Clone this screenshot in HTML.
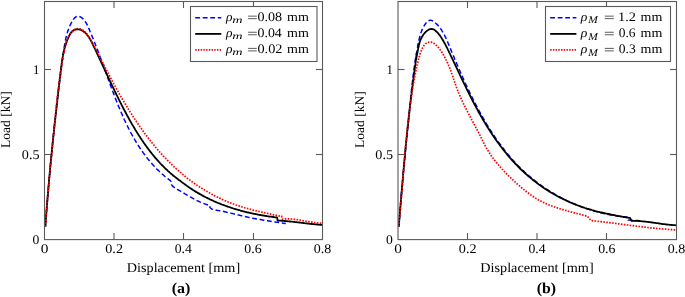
<!DOCTYPE html>
<html><head><meta charset="utf-8"><style>
html,body{margin:0;padding:0;background:#fff;width:685px;height:297px;overflow:hidden}
svg{display:block;will-change:transform}
text{font-kerning:none;text-rendering:geometricPrecision}
</style></head><body>
<svg width="685" height="297" viewBox="0 0 685 297">
<clipPath id="clipa"><rect x="44.5" y="1.5" width="278.0" height="238"/></clipPath>
<g clip-path="url(#clipa)" fill="none" stroke-width="1.5" stroke-linejoin="round">
<polyline points="45.2,226.8 45.4,225.8 45.4,224.8 45.5,223.8 45.6,222.8 45.7,221.8 45.7,220.8 45.8,219.8 45.9,218.8 46.0,217.8 46.1,216.8 46.1,215.8 46.2,214.8 46.3,213.8 46.4,212.8 46.5,211.8 46.5,210.8 46.6,209.8 46.7,208.8 46.8,207.8 46.9,206.8 47.0,205.8 47.0,204.8 47.1,203.8 47.2,202.8 47.3,201.8 47.4,200.8 47.4,199.8 47.5,198.7 47.6,197.7 47.7,196.7 47.8,195.7 47.9,194.7 47.9,193.7 48.0,192.7 48.1,191.7 48.2,190.7 48.3,189.7 48.4,188.7 48.5,187.7 48.5,186.7 48.6,185.7 48.7,184.7 48.8,183.7 48.9,182.7 49.0,181.7 49.1,180.7 49.2,179.7 49.2,178.7 49.3,177.7 49.4,176.7 49.5,175.7 49.6,174.7 49.7,173.7 49.8,172.7 49.9,171.7 50.0,170.7 50.1,169.7 50.1,168.7 50.2,167.7 50.3,166.7 50.4,165.7 50.5,164.7 50.6,163.7 50.7,162.7 50.8,161.7 50.9,160.7 51.0,159.7 51.1,158.7 51.2,157.7 51.3,156.7 51.4,155.7 51.5,154.7 51.6,153.7 51.7,152.8 51.8,151.8 51.8,150.8 51.9,149.8 52.0,148.8 52.1,147.8 52.2,146.8 52.3,145.8 52.4,144.8 52.5,143.8 52.6,142.8 52.7,141.8 52.8,140.8 52.9,139.8 53.0,138.8 53.1,137.8 53.2,136.8 53.4,135.8 53.5,134.8 53.6,133.8 53.7,132.8 53.8,131.8 53.9,130.8 54.0,129.8 54.1,128.8 54.2,127.8 54.3,126.8 54.4,125.8 54.5,124.8 54.6,123.8 54.7,122.8 54.8,121.8 54.9,120.8 55.0,119.8 55.2,118.8 55.3,117.8 55.4,116.8 55.5,115.8 55.6,114.8 55.7,113.8 55.8,112.8 55.9,111.8 56.1,110.9 56.2,109.9 56.3,108.9 56.4,107.9 56.5,106.9 56.6,105.9 56.7,104.9 56.9,103.9 57.0,102.9 57.1,101.9 57.2,100.9 57.3,99.9 57.4,98.9 57.6,97.9 57.7,96.9 57.8,95.9 57.9,94.9 58.0,93.9 58.2,92.9 58.3,91.9 58.4,90.9 58.5,89.9 58.7,88.9 58.8,87.9 58.9,86.9 59.0,85.9 59.2,84.9 59.3,83.9 59.4,82.9 59.5,81.9 59.7,80.9 59.8,79.9 59.9,79.0 60.0,78.0 60.2,77.0 60.3,76.0 60.4,75.0 60.6,74.0 60.7,73.0 60.8,72.0 61.0,71.0 61.1,70.0 61.2,69.0 61.4,68.0 61.5,67.0 61.6,66.0 61.8,65.0 61.9,64.0 62.0,63.0 62.2,62.0 62.3,61.0 62.5,60.0 62.6,59.0 62.7,58.0 62.9,57.0 63.0,56.0 63.2,55.0 63.3,54.0 63.4,53.0 63.6,52.0 63.7,51.0 63.9,50.0 64.0,49.0 64.2,48.0 64.3,47.0 64.5,46.0 64.6,45.0 64.8,44.1 65.0,43.1 65.1,42.1 65.3,41.1 65.5,40.1 65.7,39.1 65.9,38.1 66.1,37.2 66.4,36.2 66.6,35.2 66.9,34.2 67.2,33.3 67.4,32.3 67.7,31.4 68.1,30.4 68.4,29.5 68.7,28.5 69.1,27.6 69.5,26.6 69.9,25.7 70.3,24.8 70.8,23.9 71.3,23.0 71.8,22.1 72.3,21.2 72.8,20.3 73.4,19.4 74.0,18.6 74.6,17.9 75.3,17.3 76.0,16.8 76.7,16.5 77.5,16.3 78.3,16.3 79.1,16.4 80.0,16.7 80.8,17.1 81.6,17.7 82.4,18.3 83.1,18.9 83.8,19.6 84.4,20.4 85.1,21.2 85.6,22.1 86.2,23.0 86.7,23.9 87.2,24.8 87.6,25.8 88.1,26.8 88.5,27.8 88.9,28.7 89.4,29.7 89.8,30.7 90.2,31.7 90.6,32.6 91.0,33.6 91.4,34.6 91.8,35.5 92.2,36.5 92.5,37.4 92.9,38.3 93.3,39.3 93.7,40.2 94.1,41.1 94.4,42.0 94.8,43.0 95.2,43.9 95.5,44.8 95.9,45.7 96.3,46.6 96.6,47.5 97.0,48.5 97.3,49.4 97.7,50.3 98.0,51.2 98.4,52.1 98.7,53.1 99.1,54.0 99.4,54.9 99.8,55.8 100.1,56.8 100.5,57.7 100.8,58.6 101.2,59.6 101.5,60.5 101.8,61.4 102.2,62.3 102.5,63.3 102.9,64.2 103.2,65.2 103.5,66.1 103.9,67.0 104.2,68.0 104.6,68.9 104.9,69.8 105.2,70.8 105.6,71.7 105.9,72.7 106.3,73.6 106.6,74.5 106.9,75.5 107.3,76.4 107.6,77.4 108.0,78.3 108.3,79.3 108.6,80.2 109.0,81.1 109.3,82.1 109.7,83.0 110.0,84.0 110.4,84.9 110.7,85.9 111.1,86.8 111.4,87.8 111.8,88.7 112.1,89.6 112.5,90.6 112.8,91.5 113.2,92.5 113.5,93.4 113.9,94.4 114.3,95.3 114.6,96.2 115.0,97.2 115.3,98.1 115.7,99.1 116.1,100.0 116.4,101.0 116.8,101.9 117.2,102.8 117.6,103.8 118.0,104.7 118.3,105.6 118.7,106.6 119.1,107.5 119.5,108.4 119.9,109.4 120.3,110.3 120.7,111.2 121.1,112.2 121.5,113.1 121.9,114.0 122.3,114.9 122.7,115.9 123.1,116.8 123.5,117.7 123.9,118.6 124.3,119.6 124.8,120.5 125.2,121.4 125.6,122.3 126.1,123.2 126.5,124.1 126.9,125.0 127.4,125.9 127.8,126.8 128.3,127.7 128.7,128.6 129.2,129.5 129.6,130.4 130.1,131.3 130.6,132.2 131.0,133.1 131.5,134.0 132.0,134.9 132.5,135.7 133.0,136.6 133.5,137.5 134.0,138.3 134.5,139.2 135.0,140.1 135.5,140.9 136.0,141.8 136.5,142.7 137.0,143.5 137.6,144.3 138.1,145.2 138.6,146.0 139.2,146.9 139.7,147.7 140.3,148.5 140.8,149.4 141.4,150.2 142.0,151.0 142.5,151.8 143.1,152.6 143.7,153.4 144.3,154.2 144.9,155.0 145.5,155.8 146.1,156.6 146.7,157.4 147.3,158.2 147.9,159.0 148.6,159.7 149.2,160.5 149.8,161.3 150.5,162.0 151.1,162.8 151.8,163.5 152.4,164.3 153.1,165.0 153.8,165.8 154.5,166.5 155.1,167.2 155.8,167.9 156.5,168.7 157.2,169.4 158.0,170.1 158.7,170.8 159.4,171.5 160.1,172.1 160.9,172.8 161.6,173.5 162.4,174.2 163.1,174.8 163.9,175.5 164.7,176.2 165.4,176.8 166.2,177.4 167.0,178.1 167.8,178.7 168.6,179.3 169.5,179.9 170.3,180.6 170.8,181.4 170.8,181.4 170.7,182.6 171.0,183.6 171.4,184.4 171.9,185.2 172.5,185.9 173.2,186.6 173.9,187.2 174.7,187.7 175.6,188.3 176.5,188.8 177.3,189.3 178.2,189.8 179.1,190.3 180.0,190.9 180.9,191.4 181.8,191.9 182.7,192.5 183.6,193.0 184.5,193.5 185.4,194.1 186.3,194.6 187.2,195.1 188.1,195.6 188.9,196.2 189.8,196.7 190.7,197.2 191.6,197.7 192.5,198.2 193.4,198.7 194.3,199.2 195.2,199.6 196.1,200.1 197.0,200.6 197.9,201.0 198.8,201.4 199.8,201.9 200.7,202.3 201.6,202.7 202.6,203.1 203.5,203.4 204.5,203.8 205.5,204.1 206.5,204.5 207.5,204.8 208.5,205.1 209.5,205.3 209.5,205.3 209.6,206.6 210.0,207.4 210.6,208.1 211.3,208.6 212.0,209.1 212.9,209.4 213.7,209.7 214.7,209.9 215.7,210.1 216.6,210.3 217.7,210.4 218.7,210.6 219.7,210.7 220.7,210.9 221.7,211.1 222.7,211.3 223.7,211.5 224.7,211.7 225.7,211.9 226.7,212.2 227.7,212.4 228.7,212.6 229.7,212.9 230.7,213.1 231.7,213.4 232.7,213.6 233.7,213.9 234.7,214.1 235.7,214.4 236.7,214.6 237.7,214.9 238.7,215.1 239.7,215.3 240.7,215.6 241.7,215.8 242.7,216.0 243.7,216.3 244.7,216.5 245.7,216.7 246.7,216.9 247.7,217.1 248.7,217.4 249.7,217.6 250.6,217.8 251.6,218.0 252.6,218.2 253.6,218.4 254.6,218.5 255.6,218.7 256.6,218.9 257.6,219.1 258.6,219.3 259.6,219.5 260.6,219.6 261.6,219.8 262.6,220.0 263.6,220.2 264.6,220.3 265.6,220.5 266.6,220.7 267.6,220.8 268.6,221.0 269.6,221.1 270.6,221.3 271.7,221.4 272.7,221.6 273.7,221.7 274.7,221.9 275.7,222.1 276.7,222.2 277.7,222.3 278.7,222.5 279.7,222.6 280.7,222.8 281.8,222.9 282.8,223.1 283.8,223.2 284.8,223.4 285.8,223.6" stroke="#0000ff" stroke-dasharray="4.85 2.65"/>
<polyline points="45.2,226.8 45.4,225.8 45.5,224.8 45.5,223.8 45.6,222.8 45.7,221.8 45.8,220.8 45.8,219.8 45.9,218.8 46.0,217.8 46.1,216.8 46.1,215.8 46.2,214.8 46.3,213.8 46.4,212.8 46.4,211.8 46.5,210.8 46.6,209.8 46.7,208.8 46.8,207.8 46.8,206.8 46.9,205.8 47.0,204.8 47.1,203.8 47.2,202.8 47.2,201.8 47.3,200.8 47.4,199.8 47.5,198.8 47.6,197.8 47.7,196.8 47.7,195.8 47.8,194.8 47.9,193.8 48.0,192.8 48.1,191.8 48.2,190.8 48.2,189.8 48.3,188.8 48.4,187.8 48.5,186.8 48.6,185.8 48.7,184.8 48.8,183.8 48.9,182.8 49.0,181.8 49.0,180.7 49.1,179.7 49.2,178.7 49.3,177.7 49.4,176.7 49.5,175.7 49.6,174.7 49.7,173.7 49.8,172.7 49.9,171.7 50.0,170.7 50.1,169.7 50.1,168.7 50.2,167.7 50.3,166.7 50.4,165.7 50.5,164.7 50.6,163.7 50.7,162.7 50.8,161.7 50.9,160.7 51.0,159.7 51.1,158.7 51.2,157.7 51.3,156.7 51.4,155.7 51.5,154.7 51.6,153.7 51.7,152.7 51.8,151.7 51.9,150.7 52.0,149.7 52.1,148.7 52.2,147.7 52.3,146.7 52.4,145.7 52.5,144.7 52.6,143.7 52.7,142.7 52.8,141.7 52.9,140.7 53.0,139.7 53.1,138.7 53.2,137.7 53.3,136.7 53.4,135.7 53.5,134.7 53.6,133.7 53.8,132.7 53.9,131.7 54.0,130.7 54.1,129.7 54.2,128.7 54.3,127.7 54.4,126.7 54.5,125.7 54.6,124.7 54.7,123.7 54.8,122.7 54.9,121.7 55.0,120.7 55.1,119.7 55.3,118.7 55.4,117.7 55.5,116.7 55.6,115.7 55.7,114.7 55.8,113.7 55.9,112.7 56.0,111.7 56.1,110.7 56.3,109.7 56.4,108.7 56.5,107.7 56.6,106.7 56.7,105.7 56.8,104.7 56.9,103.7 57.0,102.7 57.2,101.7 57.3,100.7 57.4,99.7 57.5,98.7 57.6,97.7 57.7,96.7 57.8,95.7 57.9,94.7 58.1,93.7 58.2,92.7 58.3,91.7 58.4,90.7 58.5,89.7 58.6,88.7 58.8,87.8 58.9,86.8 59.0,85.8 59.1,84.8 59.2,83.8 59.3,82.8 59.5,81.8 59.6,80.8 59.7,79.8 59.8,78.8 59.9,77.8 60.1,76.8 60.2,75.8 60.3,74.8 60.4,73.8 60.5,72.8 60.6,71.8 60.8,70.9 60.9,69.9 61.0,68.9 61.1,67.9 61.2,66.9 61.4,65.9 61.5,64.9 61.6,63.9 61.8,62.9 61.9,61.9 62.0,60.9 62.2,60.0 62.3,59.0 62.5,58.0 62.7,57.0 62.9,56.0 63.0,55.0 63.2,54.0 63.4,53.0 63.6,52.0 63.9,51.1 64.1,50.1 64.3,49.1 64.6,48.1 64.9,47.1 65.2,46.1 65.5,45.1 65.8,44.2 66.1,43.2 66.5,42.2 66.8,41.2 67.2,40.2 67.6,39.3 68.0,38.3 68.4,37.3 68.9,36.3 69.4,35.4 69.9,34.4 70.4,33.5 71.0,32.7 71.6,31.9 72.3,31.3 73.0,30.7 73.7,30.1 74.5,29.7 75.4,29.5 76.3,29.3 77.2,29.2 78.1,29.3 79.0,29.4 79.9,29.6 80.8,29.9 81.6,30.3 82.4,30.7 83.2,31.2 83.9,31.7 84.6,32.3 85.3,32.9 86.0,33.5 86.6,34.2 87.2,35.0 87.8,35.7 88.4,36.5 89.0,37.4 89.5,38.2 90.0,39.1 90.6,40.0 91.0,40.9 91.5,41.8 92.0,42.8 92.5,43.7 92.9,44.7 93.4,45.7 93.9,46.6 94.3,47.6 94.8,48.5 95.2,49.5 95.7,50.4 96.1,51.4 96.6,52.3 97.0,53.3 97.4,54.2 97.9,55.1 98.3,56.1 98.8,57.0 99.2,57.9 99.6,58.9 100.1,59.8 100.5,60.7 100.9,61.6 101.3,62.6 101.8,63.5 102.2,64.4 102.6,65.3 103.1,66.2 103.5,67.2 103.9,68.1 104.3,69.0 104.8,69.9 105.2,70.8 105.6,71.7 106.0,72.6 106.4,73.5 106.9,74.4 107.3,75.3 107.7,76.2 108.1,77.1 108.5,78.0 109.0,78.9 109.4,79.8 109.8,80.7 110.2,81.6 110.7,82.5 111.1,83.4 111.5,84.3 111.9,85.2 112.4,86.1 112.8,87.0 113.2,87.9 113.6,88.8 114.1,89.6 114.5,90.5 114.9,91.4 115.3,92.3 115.8,93.2 116.2,94.1 116.6,95.0 117.1,95.9 117.5,96.7 118.0,97.6 118.4,98.5 118.8,99.4 119.3,100.3 119.7,101.2 120.2,102.1 120.6,102.9 121.1,103.8 121.5,104.7 122.0,105.6 122.4,106.5 122.9,107.4 123.3,108.3 123.8,109.2 124.3,110.0 124.7,110.9 125.2,111.8 125.7,112.7 126.2,113.6 126.6,114.5 127.1,115.4 127.6,116.2 128.1,117.1 128.6,118.0 129.0,118.9 129.5,119.8 130.0,120.6 130.5,121.5 131.0,122.4 131.5,123.3 132.0,124.2 132.5,125.0 133.1,125.9 133.6,126.8 134.1,127.6 134.6,128.5 135.1,129.4 135.6,130.2 136.2,131.1 136.7,132.0 137.2,132.8 137.8,133.7 138.3,134.5 138.9,135.4 139.4,136.2 140.0,137.1 140.5,137.9 141.1,138.8 141.6,139.6 142.2,140.5 142.8,141.3 143.3,142.1 143.9,143.0 144.5,143.8 145.1,144.6 145.7,145.4 146.3,146.3 146.9,147.1 147.5,147.9 148.1,148.7 148.7,149.5 149.3,150.3 149.9,151.1 150.5,151.9 151.1,152.7 151.8,153.5 152.4,154.3 153.0,155.0 153.7,155.8 154.3,156.6 154.9,157.3 155.6,158.1 156.3,158.9 156.9,159.6 157.6,160.4 158.3,161.1 158.9,161.9 159.6,162.6 160.3,163.3 161.0,164.1 161.7,164.8 162.4,165.5 163.1,166.2 163.8,166.9 164.5,167.6 165.2,168.3 165.9,169.0 166.7,169.7 167.4,170.4 168.1,171.1 168.9,171.7 169.6,172.4 170.4,173.1 171.1,173.7 171.9,174.4 172.6,175.0 173.4,175.7 174.2,176.3 175.0,176.9 175.8,177.5 176.6,178.1 177.4,178.8 178.2,179.4 178.9,180.1 178.9,180.1 179.9,180.5 180.6,181.1 181.4,181.8 182.2,182.4 183.1,183.0 183.9,183.6 184.7,184.2 185.5,184.8 186.3,185.4 187.1,186.0 188.0,186.6 188.8,187.2 189.6,187.8 190.5,188.3 191.3,188.9 192.2,189.4 193.0,190.0 193.9,190.5 194.7,191.1 195.6,191.6 196.5,192.1 197.3,192.6 198.2,193.1 199.1,193.6 200.0,194.1 200.9,194.6 201.7,195.1 202.6,195.6 203.5,196.1 204.4,196.6 205.3,197.0 206.2,197.5 207.1,197.9 208.0,198.4 208.9,198.8 209.8,199.3 210.8,199.7 211.7,200.1 212.6,200.5 213.5,201.0 214.4,201.4 215.4,201.8 216.3,202.2 217.2,202.6 218.2,203.0 219.1,203.3 220.1,203.7 221.0,204.1 221.9,204.5 222.9,204.8 223.8,205.2 224.8,205.5 225.7,205.9 226.7,206.2 227.7,206.6 228.6,206.9 229.6,207.2 230.5,207.5 231.5,207.9 232.5,208.2 233.4,208.5 234.4,208.8 235.4,209.1 236.4,209.4 237.3,209.7 238.3,209.9 239.3,210.2 240.3,210.5 241.2,210.8 242.2,211.0 243.2,211.3 244.2,211.5 245.2,211.8 246.2,212.0 247.1,212.3 248.1,212.5 249.1,212.7 250.1,213.0 251.1,213.2 252.1,213.4 253.1,213.6 254.1,213.8 255.1,214.0 256.1,214.2 257.1,214.4 258.1,214.6 259.1,214.8 260.1,215.0 261.1,215.2 262.1,215.4 263.1,215.5 264.1,215.7 265.1,215.9 266.1,216.0 267.1,216.2 268.1,216.3 269.1,216.5 270.1,216.6 271.1,216.7 272.1,216.9 273.1,217.0 274.1,217.1 275.1,217.3 276.1,217.4 277.1,217.5 277.6,220.6 278.6,220.6 279.7,220.6 280.7,220.7 281.8,220.8 282.8,220.8 283.8,220.9 284.9,221.0 285.9,221.1 287.0,221.2 288.0,221.3 289.0,221.4 290.1,221.5 291.1,221.6 292.1,221.7 293.2,221.8 294.2,221.9 295.2,222.1 296.3,222.2 297.3,222.3 298.4,222.4 299.4,222.5 300.4,222.7 301.5,222.8 302.5,222.9 303.5,223.0 304.6,223.2 305.6,223.3 306.6,223.4 307.7,223.5 308.7,223.6 309.7,223.8 310.8,223.9 311.8,224.0 312.9,224.1 313.9,224.2 314.9,224.3 316.0,224.4 317.0,224.5 318.0,224.6 319.1,224.7 320.1,224.8 321.2,224.8 322.2,224.9" stroke="#000000" stroke-width="1.8"/>
<polyline points="45.2,226.8 45.4,225.8 45.4,224.8 45.5,223.8 45.6,222.8 45.7,221.8 45.7,220.8 45.8,219.8 45.9,218.8 45.9,217.8 46.0,216.8 46.1,215.8 46.2,214.8 46.2,213.8 46.3,212.8 46.4,211.8 46.5,210.8 46.6,209.8 46.6,208.8 46.7,207.8 46.8,206.8 46.9,205.8 47.0,204.8 47.0,203.8 47.1,202.8 47.2,201.8 47.3,200.8 47.4,199.8 47.5,198.8 47.6,197.8 47.6,196.8 47.7,195.8 47.8,194.8 47.9,193.8 48.0,192.8 48.1,191.8 48.2,190.8 48.3,189.8 48.3,188.8 48.4,187.8 48.5,186.8 48.6,185.8 48.7,184.8 48.8,183.8 48.9,182.8 49.0,181.8 49.1,180.8 49.2,179.8 49.3,178.9 49.4,177.9 49.5,176.9 49.6,175.9 49.6,174.9 49.7,173.9 49.8,172.9 49.9,171.9 50.0,170.9 50.1,169.9 50.2,168.9 50.3,167.9 50.4,166.9 50.5,165.9 50.6,164.9 50.7,163.9 50.8,162.9 50.9,161.9 51.0,160.9 51.1,159.9 51.2,158.9 51.3,157.9 51.4,156.9 51.5,155.9 51.6,154.9 51.7,153.9 51.8,152.9 51.9,151.9 52.0,150.9 52.1,149.9 52.2,148.9 52.3,147.9 52.4,146.9 52.5,145.9 52.6,144.9 52.7,143.9 52.8,142.9 52.9,141.9 53.0,140.9 53.1,139.9 53.2,138.9 53.3,137.9 53.4,136.9 53.5,135.9 53.6,134.9 53.7,133.9 53.8,132.9 53.9,131.9 54.0,130.9 54.1,129.9 54.1,128.9 54.2,128.0 54.3,127.0 54.4,126.0 54.5,125.0 54.6,124.0 54.7,123.0 54.8,122.0 54.9,121.0 55.0,120.0 55.1,119.0 55.2,118.0 55.3,117.0 55.4,116.0 55.5,115.0 55.6,114.0 55.7,113.0 55.8,112.0 55.9,111.0 56.0,110.0 56.1,109.0 56.2,108.0 56.3,107.0 56.4,106.0 56.5,105.0 56.6,104.0 56.7,103.0 56.8,102.0 56.9,101.0 57.0,100.0 57.1,99.0 57.2,98.0 57.4,97.1 57.5,96.1 57.6,95.1 57.7,94.1 57.8,93.1 57.9,92.1 58.0,91.1 58.2,90.1 58.3,89.1 58.4,88.1 58.5,87.1 58.6,86.1 58.8,85.1 58.9,84.1 59.0,83.1 59.2,82.1 59.3,81.1 59.4,80.2 59.6,79.2 59.7,78.2 59.8,77.2 60.0,76.2 60.1,75.2 60.3,74.2 60.4,73.2 60.6,72.2 60.7,71.2 60.9,70.2 61.0,69.2 61.2,68.3 61.3,67.3 61.5,66.3 61.7,65.3 61.8,64.3 62.0,63.3 62.2,62.3 62.3,61.3 62.5,60.3 62.7,59.4 62.9,58.4 63.0,57.4 63.2,56.4 63.4,55.4 63.6,54.4 63.8,53.4 64.0,52.4 64.2,51.5 64.4,50.5 64.6,49.5 64.8,48.5 65.0,47.5 65.2,46.5 65.4,45.5 65.7,44.6 65.9,43.6 66.2,42.6 66.4,41.6 66.7,40.7 67.0,39.7 67.4,38.8 67.8,37.9 68.2,37.0 68.6,36.1 69.1,35.2 69.7,34.4 70.3,33.6 71.0,32.8 71.7,32.0 72.5,31.3 73.3,30.7 74.1,30.1 75.0,29.6 75.9,29.2 76.8,28.9 77.7,28.7 78.6,28.7 79.6,28.8 80.4,29.0 81.3,29.3 82.1,29.7 82.9,30.2 83.7,30.7 84.4,31.4 85.1,32.1 85.8,32.8 86.4,33.6 87.1,34.4 87.7,35.3 88.3,36.2 88.9,37.1 89.4,38.0 90.0,38.9 90.5,39.8 91.1,40.7 91.6,41.6 92.1,42.5 92.6,43.4 93.1,44.3 93.6,45.2 94.1,46.0 94.6,46.9 95.0,47.8 95.5,48.7 96.0,49.6 96.4,50.4 96.9,51.3 97.3,52.2 97.8,53.1 98.2,54.0 98.7,54.8 99.1,55.7 99.5,56.6 100.0,57.5 100.4,58.3 100.9,59.2 101.3,60.1 101.8,61.0 102.2,61.9 102.7,62.7 103.1,63.6 103.6,64.5 104.0,65.4 104.5,66.3 104.9,67.1 105.4,68.0 105.9,68.9 106.3,69.8 106.8,70.7 107.2,71.6 107.7,72.4 108.2,73.3 108.6,74.2 109.1,75.1 109.6,76.0 110.0,76.9 110.5,77.7 111.0,78.6 111.4,79.5 111.9,80.4 112.4,81.3 112.9,82.2 113.4,83.0 113.8,83.9 114.3,84.8 114.8,85.7 115.3,86.6 115.8,87.4 116.3,88.3 116.7,89.2 117.2,90.1 117.7,90.9 118.2,91.8 118.7,92.7 119.2,93.6 119.7,94.5 120.2,95.3 120.7,96.2 121.2,97.1 121.7,97.9 122.2,98.8 122.7,99.7 123.2,100.5 123.8,101.4 124.3,102.3 124.8,103.1 125.3,104.0 125.8,104.9 126.3,105.7 126.9,106.6 127.4,107.5 127.9,108.3 128.4,109.2 129.0,110.0 129.5,110.9 130.0,111.7 130.6,112.6 131.1,113.4 131.7,114.3 132.2,115.1 132.8,116.0 133.3,116.8 133.9,117.7 134.4,118.5 135.0,119.4 135.5,120.2 136.1,121.0 136.6,121.9 137.2,122.7 137.8,123.5 138.3,124.4 138.9,125.2 139.5,126.0 140.0,126.9 140.6,127.7 141.2,128.5 141.8,129.3 142.4,130.1 143.0,130.9 143.5,131.8 144.1,132.6 144.7,133.4 145.3,134.2 145.9,135.0 146.5,135.8 147.1,136.6 147.7,137.4 148.4,138.2 149.0,139.0 149.6,139.8 150.2,140.6 150.8,141.3 151.4,142.1 152.1,142.9 152.7,143.7 153.3,144.5 154.0,145.2 154.6,146.0 155.2,146.8 155.9,147.5 156.5,148.3 157.2,149.1 157.8,149.8 158.5,150.6 159.1,151.3 159.8,152.1 160.5,152.8 161.1,153.6 161.8,154.3 162.5,155.0 163.1,155.8 163.8,156.5 164.5,157.2 165.2,157.9 165.9,158.7 166.6,159.4 167.3,160.1 168.0,160.8 168.7,161.5 169.4,162.2 170.1,162.9 170.8,163.6 171.5,164.3 172.2,165.0 172.9,165.7 173.6,166.4 174.4,167.1 175.1,167.7 175.8,168.4 176.6,169.1 177.3,169.7 178.1,170.4 178.8,171.1 179.5,171.7 180.3,172.4 181.1,173.0 181.8,173.7 182.6,174.3 183.3,174.9 184.1,175.6 184.9,176.2 185.7,176.8 186.5,177.4 187.2,178.1 188.0,178.7 188.8,179.3 189.6,179.9 190.4,180.5 191.2,181.1 192.0,181.7 192.8,182.3 193.7,182.8 194.5,183.4 195.3,184.0 196.1,184.6 196.9,185.1 197.8,185.7 198.6,186.2 199.4,186.8 200.3,187.3 201.1,187.9 202.0,188.4 202.8,188.9 203.7,189.5 204.5,190.0 205.4,190.5 206.3,191.0 207.1,191.5 208.0,192.0 208.9,192.5 209.7,193.0 210.6,193.5 211.5,194.0 212.4,194.5 213.3,194.9 214.1,195.4 215.0,195.9 215.9,196.3 216.8,196.8 217.7,197.2 218.6,197.7 219.5,198.1 220.4,198.5 221.3,199.0 222.2,199.4 223.2,199.8 224.1,200.2 225.0,200.6 225.9,201.0 226.8,201.4 227.7,201.8 228.7,202.2 229.6,202.5 230.5,202.9 231.5,203.3 232.4,203.6 233.3,204.0 234.3,204.3 235.2,204.6 236.1,205.0 237.1,205.3 238.0,205.6 239.0,205.9 239.9,206.2 240.9,206.5 241.8,206.8 242.8,207.1 243.7,207.4 244.7,207.7 245.6,208.0 246.6,208.3 247.6,208.5 248.5,208.8 249.5,209.1 250.4,209.3 251.4,209.6 252.4,209.8 253.3,210.1 254.3,210.3 255.3,210.6 256.2,210.8 257.2,211.1 258.2,211.3 259.1,211.5 260.1,211.7 261.1,212.0 262.0,212.2 263.0,212.4 264.0,212.6 265.0,212.9 265.9,213.1 266.9,213.3 267.9,213.5 268.9,213.7 269.8,213.9 270.8,214.1 271.8,214.4 272.8,214.6 273.7,214.8 274.7,215.0 275.7,215.2 276.7,215.4 277.6,215.6 278.6,215.8 279.6,216.0 280.6,216.2 281.6,216.2 282.2,219.2 283.2,219.1 284.3,219.0 285.3,218.9 286.3,218.9 287.4,218.9 288.4,218.9 289.4,218.9 290.5,218.9 291.5,219.0 292.5,219.1 293.5,219.2 294.6,219.3 295.6,219.4 296.6,219.6 297.6,219.7 298.7,219.9 299.7,220.0 300.7,220.2 301.7,220.4 302.7,220.6 303.8,220.8 304.8,221.0 305.8,221.2 306.8,221.3 307.8,221.5 308.9,221.7 309.9,221.9 310.9,222.1 311.9,222.2 312.9,222.4 314.0,222.5 315.0,222.7 316.0,222.8 317.0,222.9 318.1,223.0 319.1,223.1 320.1,223.1 321.2,223.2 322.2,223.2" stroke="#ff0000" stroke-width="1.7" stroke-dasharray="1.6 1.35"/>
</g>
<g fill="none" stroke="#5a5a5a" stroke-width="1.1">
<rect x="44.5" y="1.5" width="278.0" height="238.1"/>
<line x1="114.0" y1="239.5" x2="114.0" y2="233"/>
<line x1="114.0" y1="1.5" x2="114.0" y2="8"/>
<line x1="183.5" y1="239.5" x2="183.5" y2="233"/>
<line x1="183.5" y1="1.5" x2="183.5" y2="8"/>
<line x1="253.5" y1="239.5" x2="253.5" y2="233"/>
<line x1="253.5" y1="1.5" x2="253.5" y2="8"/>
<line x1="44.5" y1="154.5" x2="51.0" y2="154.5"/>
<line x1="322.5" y1="154.5" x2="316.0" y2="154.5"/>
<line x1="44.5" y1="69.5" x2="51.0" y2="69.5"/>
<line x1="322.5" y1="69.5" x2="316.0" y2="69.5"/>
</g>
<g font-family="Liberation Serif" fill="#000">
<text x="40.67" y="253.00" font-size="13.3" textLength="7.67" lengthAdjust="spacingAndGlyphs">0</text>
<text x="105.26" y="253.00" font-size="13.3" textLength="17.72" lengthAdjust="spacingAndGlyphs">0.2</text>
<text x="174.78" y="253.00" font-size="13.3" textLength="17.14" lengthAdjust="spacingAndGlyphs">0.4</text>
<text x="244.27" y="253.00" font-size="13.3" textLength="17.34" lengthAdjust="spacingAndGlyphs">0.6</text>
<text x="313.77" y="253.00" font-size="13.3" textLength="17.46" lengthAdjust="spacingAndGlyphs">0.8</text>
<text x="32.58" y="243.90" font-size="13.3" textLength="6.84" lengthAdjust="spacingAndGlyphs">0</text>
<text x="21.86" y="159.00" font-size="13.3" textLength="17.69" lengthAdjust="spacingAndGlyphs">0.5</text>
<text x="32.98" y="73.90" font-size="13.3" textLength="6.39" lengthAdjust="spacingAndGlyphs">1</text>
<text x="126.79" y="271.90" font-size="13.5" textLength="113.37" lengthAdjust="spacingAndGlyphs">Displacement [mm]</text>
<text x="171.69" y="292.70" font-size="15.0" textLength="18.71" lengthAdjust="spacingAndGlyphs" font-weight="bold">(a)</text>
<text transform="translate(10.0,0) rotate(-90)" x="-148.09" y="0" font-size="13.3" textLength="56.80" lengthAdjust="spacingAndGlyphs">Load [kN]</text>
</g>
<rect x="190.5" y="6.5" width="126.5" height="55.0" fill="#fff" stroke="#5a5a5a" stroke-width="1.1"/>
<line x1="195.25" y1="17.7" x2="221.3" y2="17.7" stroke="#0000ff" stroke-width="1.6" stroke-dasharray="4.85 2.65"/>
<line x1="195.25" y1="33.9" x2="221.3" y2="33.9" stroke="#000" stroke-width="1.8" stroke-dasharray="none"/>
<line x1="195.25" y1="49.95" x2="221.3" y2="49.95" stroke="#ff0000" stroke-width="1.7" stroke-dasharray="1.45 1.26"/>
<g font-family="Liberation Serif" fill="#000">
<text x="226.04" y="20.80" font-size="13.0" textLength="6.47" lengthAdjust="spacingAndGlyphs" font-style="italic">ρ</text>
<text x="232.18" y="22.70" font-size="9.7" textLength="10.32" lengthAdjust="spacingAndGlyphs" font-style="italic">m</text>
<path d="M248.1 16.15H256.8M248.1 18.65H256.8" stroke="#333" stroke-width="0.8" fill="none"/>
<text x="257.46" y="20.80" font-size="13.0" textLength="24.67" lengthAdjust="spacingAndGlyphs">0.08</text>
<text x="287.11" y="20.80" font-size="13.0" textLength="21.81" lengthAdjust="spacingAndGlyphs">mm</text>
<text x="226.04" y="36.90" font-size="13.0" textLength="6.47" lengthAdjust="spacingAndGlyphs" font-style="italic">ρ</text>
<text x="232.18" y="38.80" font-size="9.7" textLength="10.32" lengthAdjust="spacingAndGlyphs" font-style="italic">m</text>
<path d="M248.1 32.25H256.8M248.1 34.75H256.8" stroke="#333" stroke-width="0.8" fill="none"/>
<text x="257.47" y="36.90" font-size="13.0" textLength="24.35" lengthAdjust="spacingAndGlyphs">0.04</text>
<text x="287.11" y="36.90" font-size="13.0" textLength="21.81" lengthAdjust="spacingAndGlyphs">mm</text>
<text x="226.04" y="53.05" font-size="13.0" textLength="6.47" lengthAdjust="spacingAndGlyphs" font-style="italic">ρ</text>
<text x="232.18" y="54.95" font-size="9.7" textLength="10.32" lengthAdjust="spacingAndGlyphs" font-style="italic">m</text>
<path d="M248.1 48.40H256.8M248.1 50.90H256.8" stroke="#333" stroke-width="0.8" fill="none"/>
<text x="257.46" y="53.05" font-size="13.0" textLength="24.93" lengthAdjust="spacingAndGlyphs">0.02</text>
<text x="287.11" y="53.05" font-size="13.0" textLength="21.81" lengthAdjust="spacingAndGlyphs">mm</text>
</g>
<clipPath id="clipb"><rect x="398.0" y="1.5" width="278.5" height="238"/></clipPath>
<g clip-path="url(#clipb)" fill="none" stroke-width="1.5" stroke-linejoin="round">
<polyline points="398.7,226.8 398.9,225.8 398.9,224.8 399.0,223.8 399.1,222.8 399.2,221.8 399.2,220.8 399.3,219.8 399.4,218.8 399.5,217.8 399.5,216.8 399.6,215.8 399.7,214.8 399.8,213.8 399.8,212.8 399.9,211.8 400.0,210.8 400.1,209.8 400.2,208.8 400.2,207.8 400.3,206.8 400.4,205.8 400.5,204.8 400.6,203.8 400.6,202.8 400.7,201.8 400.8,200.8 400.9,199.8 401.0,198.8 401.1,197.8 401.1,196.8 401.2,195.8 401.3,194.9 401.4,193.9 401.5,192.9 401.6,191.9 401.7,190.9 401.8,189.9 401.8,188.9 401.9,187.9 402.0,186.9 402.1,185.9 402.2,184.9 402.3,183.9 402.4,182.9 402.5,181.9 402.6,180.9 402.7,179.9 402.8,178.9 402.8,177.9 402.9,176.9 403.0,175.9 403.1,174.9 403.2,173.9 403.3,172.9 403.4,171.9 403.5,170.9 403.6,169.9 403.7,168.9 403.8,167.9 403.9,166.9 404.0,165.9 404.1,164.9 404.2,163.9 404.3,162.9 404.4,161.9 404.5,160.9 404.6,159.9 404.7,158.9 404.8,157.9 404.9,156.9 405.0,155.9 405.1,154.9 405.2,153.9 405.3,152.9 405.4,151.9 405.4,150.9 405.5,149.9 405.6,148.9 405.7,147.9 405.8,146.9 405.9,145.9 406.0,144.9 406.1,143.9 406.2,142.9 406.3,141.9 406.4,140.9 406.5,139.9 406.6,138.9 406.7,137.9 406.8,137.0 406.9,136.0 407.0,135.0 407.1,134.0 407.2,133.0 407.3,132.0 407.4,131.0 407.5,130.0 407.6,129.0 407.7,128.0 407.8,127.0 407.9,126.0 408.0,125.0 408.1,124.0 408.2,123.0 408.3,122.0 408.4,121.0 408.5,120.0 408.6,119.0 408.7,118.0 408.8,117.0 408.9,116.0 409.0,115.0 409.1,114.0 409.2,113.0 409.3,112.0 409.4,111.0 409.5,110.0 409.6,109.0 409.7,108.0 409.8,107.0 409.9,106.0 410.0,105.1 410.1,104.1 410.2,103.1 410.3,102.1 410.4,101.1 410.5,100.1 410.6,99.1 410.7,98.1 410.8,97.1 410.9,96.1 411.0,95.1 411.1,94.1 411.2,93.1 411.3,92.1 411.4,91.1 411.5,90.1 411.6,89.1 411.8,88.1 411.9,87.1 412.0,86.1 412.1,85.1 412.2,84.2 412.3,83.2 412.4,82.2 412.5,81.2 412.6,80.2 412.8,79.2 412.9,78.2 413.0,77.2 413.1,76.2 413.2,75.2 413.4,74.2 413.5,73.2 413.6,72.2 413.7,71.2 413.9,70.2 414.0,69.3 414.1,68.3 414.3,67.3 414.4,66.3 414.6,65.3 414.7,64.3 414.8,63.3 415.0,62.3 415.1,61.3 415.3,60.3 415.4,59.3 415.6,58.3 415.8,57.4 415.9,56.4 416.1,55.4 416.2,54.4 416.4,53.4 416.6,52.4 416.8,51.4 416.9,50.4 417.1,49.4 417.3,48.4 417.5,47.5 417.7,46.5 417.8,45.5 418.0,44.5 418.2,43.5 418.4,42.5 418.6,41.5 418.8,40.5 419.1,39.6 419.3,38.6 419.5,37.6 419.8,36.6 420.0,35.6 420.3,34.7 420.6,33.7 420.9,32.8 421.3,31.8 421.6,30.9 422.0,29.9 422.4,29.0 422.9,28.1 423.3,27.2 423.8,26.3 424.4,25.4 425.0,24.5 425.6,23.6 426.2,22.8 426.9,22.0 427.6,21.4 428.4,20.9 429.2,20.5 430.0,20.3 430.9,20.3 431.7,20.4 432.5,20.8 433.4,21.3 434.2,21.9 435.0,22.5 435.7,23.2 436.5,23.9 437.2,24.6 437.9,25.3 438.5,26.0 439.2,26.8 439.8,27.6 440.4,28.3 440.9,29.1 441.5,29.9 442.0,30.8 442.5,31.6 443.0,32.4 443.5,33.3 444.0,34.1 444.4,35.0 444.8,35.9 445.3,36.8 445.7,37.6 446.1,38.5 446.5,39.4 446.9,40.3 447.3,41.2 447.7,42.2 448.1,43.1 448.5,44.0 448.8,44.9 449.2,45.8 449.6,46.7 450.0,47.7 450.4,48.6 450.8,49.5 451.1,50.4 451.5,51.3 451.9,52.3 452.3,53.2 452.7,54.1 453.1,55.0 453.5,56.0 453.9,56.9 454.3,57.8 454.6,58.7 455.0,59.7 455.4,60.6 455.8,61.5 456.2,62.4 456.6,63.4 457.0,64.3 457.4,65.2 457.8,66.1 458.2,67.1 458.6,68.0 459.0,68.9 459.4,69.9 459.8,70.8 460.2,71.7 460.6,72.6 461.0,73.6 461.5,74.5 461.9,75.4 462.3,76.3 462.7,77.3 463.1,78.2 463.5,79.1 463.9,80.0 464.4,81.0 464.8,81.9 465.2,82.8 465.6,83.7 466.0,84.6 466.5,85.6 466.9,86.5 467.3,87.4 467.8,88.3 468.2,89.2 468.6,90.1 469.1,91.1 469.5,92.0 469.9,92.9 470.4,93.8 470.8,94.7 471.3,95.6 471.7,96.5 472.2,97.4 472.6,98.4 473.1,99.3 473.5,100.2 474.0,101.1 474.4,102.0 474.9,102.9 475.4,103.8 475.8,104.7 476.3,105.6 476.8,106.5 477.2,107.4 477.7,108.3 478.2,109.1 478.7,110.0 479.1,110.9 479.6,111.8 480.1,112.7 480.6,113.6 481.1,114.5 481.6,115.3 482.1,116.2 482.6,117.1 483.1,118.0 483.6,118.9 484.1,119.7 484.6,120.6 485.1,121.5 485.6,122.3 486.1,123.2 486.6,124.1 487.1,124.9 487.7,125.8 488.2,126.6 488.7,127.5 489.3,128.3 489.8,129.2 490.3,130.0 490.9,130.9 491.4,131.7 491.9,132.6 492.5,133.4 493.0,134.2 493.6,135.1 494.2,135.9 494.7,136.7 495.3,137.5 495.8,138.4 496.4,139.2 497.0,140.0 497.6,140.8 498.1,141.6 498.7,142.4 499.3,143.2 499.9,144.0 500.5,144.8 501.1,145.6 501.7,146.4 502.3,147.2 502.9,148.0 503.5,148.8 504.1,149.6 504.7,150.4 505.3,151.1 505.9,151.9 506.6,152.7 507.2,153.5 507.8,154.2 508.5,155.0 509.1,155.7 509.7,156.5 510.4,157.2 511.0,158.0 511.7,158.7 512.3,159.5 513.0,160.2 513.7,161.0 514.3,161.7 515.0,162.4 515.7,163.1 516.4,163.8 517.1,164.6 517.7,165.3 518.4,166.0 519.1,166.7 519.8,167.4 520.5,168.1 521.2,168.8 522.0,169.5 522.7,170.2 523.4,170.8 524.1,171.5 524.8,172.2 525.6,172.9 526.3,173.5 527.1,174.2 527.8,174.8 528.5,175.5 529.3,176.1 530.1,176.8 530.8,177.4 531.6,178.1 532.4,178.7 533.1,179.3 533.9,179.9 534.7,180.6 535.5,181.2 536.3,181.8 537.1,182.4 537.9,183.0 538.7,183.6 539.5,184.2 540.3,184.8 541.1,185.3 541.9,185.9 542.7,186.5 543.5,187.1 544.4,187.6 545.2,188.2 546.0,188.8 546.9,189.3 547.7,189.8 548.6,190.4 549.4,190.9 550.3,191.5 551.1,192.0 552.0,192.5 552.8,193.0 553.7,193.5 554.6,194.0 555.4,194.6 556.3,195.1 557.2,195.5 558.1,196.0 558.9,196.5 559.8,197.0 560.7,197.5 561.6,197.9 562.5,198.4 563.4,198.9 564.3,199.3 565.2,199.8 566.1,200.2 567.0,200.6 567.9,201.1 568.8,201.5 569.7,201.9 570.6,202.4 571.6,202.8 572.5,203.2 573.4,203.6 574.3,204.0 575.3,204.4 576.2,204.8 577.1,205.1 578.0,205.5 579.0,205.9 579.9,206.2 580.9,206.6 581.8,207.0 582.7,207.3 583.7,207.6 584.6,208.0 585.6,208.3 586.5,208.6 587.5,209.0 588.5,209.3 589.4,209.6 590.4,209.9 591.3,210.2 592.3,210.5 593.2,210.8 594.2,211.1 595.2,211.3 596.1,211.6 597.1,211.9 598.1,212.1 599.1,212.4 600.0,212.6 601.0,212.9 602.0,213.1 603.0,213.3 603.9,213.6 604.9,213.8 605.9,214.0 606.9,214.2 607.9,214.4 608.8,214.6 609.8,214.8 610.8,215.0 611.8,215.1 612.8,215.3 613.8,215.5 614.7,215.6 615.7,215.8 616.7,215.9 617.7,216.1 618.7,216.2 619.7,216.3 620.7,216.5 621.7,216.6 622.7,216.7 623.7,216.8 624.7,216.9 625.6,217.0 626.6,217.1 627.6,217.6 627.6,217.6 628.2,220.0 628.2,220.0 629.4,220.1 630.6,220.2 631.7,220.3 632.9,220.3 634.1,220.4 635.3,220.5 636.5,220.5 637.7,220.6 638.8,220.8 640.0,221.0" stroke="#0000ff" stroke-dasharray="4.85 2.65"/>
<polyline points="398.7,226.8 398.8,225.8 398.9,224.8 399.0,223.8 399.1,222.8 399.1,221.8 399.2,220.8 399.3,219.8 399.4,218.8 399.5,217.8 399.6,216.8 399.6,215.8 399.7,214.8 399.8,213.8 399.9,212.8 400.0,211.8 400.1,210.8 400.1,209.8 400.2,208.8 400.3,207.8 400.4,206.8 400.5,205.8 400.6,204.8 400.6,203.8 400.7,202.8 400.8,201.8 400.9,200.8 401.0,199.8 401.1,198.8 401.1,197.8 401.2,196.8 401.3,195.8 401.4,194.8 401.5,193.8 401.6,192.8 401.6,191.8 401.7,190.8 401.8,189.8 401.9,188.8 402.0,187.8 402.1,186.8 402.2,185.8 402.3,184.8 402.3,183.8 402.4,182.8 402.5,181.8 402.6,180.8 402.7,179.8 402.8,178.8 402.9,177.8 403.0,176.9 403.0,175.9 403.1,174.9 403.2,173.9 403.3,172.9 403.4,171.9 403.5,170.9 403.6,169.9 403.7,168.9 403.8,167.9 403.8,166.9 403.9,165.9 404.0,164.9 404.1,163.9 404.2,162.9 404.3,161.9 404.4,160.9 404.5,159.9 404.6,158.9 404.7,157.9 404.8,156.9 404.9,155.9 405.0,154.9 405.1,153.9 405.1,152.9 405.2,151.9 405.3,150.9 405.4,149.9 405.5,148.9 405.6,147.9 405.7,146.9 405.8,145.9 405.9,144.9 406.0,143.9 406.1,142.9 406.2,141.9 406.3,140.9 406.4,139.9 406.5,138.9 406.6,137.9 406.7,136.9 406.8,135.9 406.9,134.9 407.0,133.9 407.1,132.9 407.2,131.9 407.3,130.9 407.4,129.9 407.5,128.9 407.6,127.9 407.7,126.9 407.8,125.9 408.0,124.9 408.1,123.9 408.2,122.9 408.3,122.0 408.4,121.0 408.5,120.0 408.6,119.0 408.7,118.0 408.8,117.0 408.9,116.0 409.0,115.0 409.1,114.0 409.3,113.0 409.4,112.0 409.5,111.0 409.6,110.0 409.7,109.0 409.8,108.0 409.9,107.0 410.0,106.0 410.2,105.0 410.3,104.0 410.4,103.1 410.5,102.1 410.6,101.1 410.7,100.1 410.9,99.1 411.0,98.1 411.1,97.1 411.2,96.1 411.3,95.1 411.5,94.1 411.6,93.1 411.7,92.1 411.8,91.1 412.0,90.2 412.1,89.2 412.2,88.2 412.3,87.2 412.4,86.2 412.6,85.2 412.7,84.2 412.8,83.2 413.0,82.2 413.1,81.2 413.2,80.2 413.3,79.2 413.5,78.2 413.6,77.2 413.7,76.3 413.9,75.3 414.0,74.3 414.1,73.3 414.3,72.3 414.4,71.3 414.5,70.3 414.7,69.3 414.8,68.3 414.9,67.3 415.1,66.3 415.2,65.3 415.4,64.2 415.5,63.1 415.7,62.0 415.8,60.9 416.0,59.7 416.2,58.5 416.3,57.3 416.5,56.2 416.6,55.1 416.8,54.2 416.9,53.5 416.9,53.1 416.9,52.9 416.9,53.1 416.8,53.7 416.6,54.4 416.5,55.4 416.3,56.5 416.1,57.6 416.0,58.6 415.8,59.5 415.7,60.3 415.7,60.8 415.7,60.9 415.7,60.8 415.9,60.3 416.0,59.7 416.2,58.8 416.4,57.8 416.6,56.7 416.9,55.4 417.1,54.1 417.4,52.8 417.6,51.5 417.9,50.3 418.1,49.1 418.3,47.9 418.6,46.8 418.8,45.7 419.0,44.7 419.3,43.7 419.5,42.7 419.8,41.8 420.1,40.8 420.5,39.9 420.8,39.1 421.2,38.2 421.7,37.3 422.2,36.5 422.7,35.7 423.3,34.8 423.9,34.0 424.6,33.2 425.3,32.4 426.0,31.6 426.8,31.0 427.6,30.4 428.5,29.8 429.3,29.4 430.1,29.1 431.0,29.0 431.8,29.0 432.7,29.1 433.5,29.4 434.3,29.8 435.1,30.4 435.8,31.0 436.6,31.7 437.3,32.4 438.1,33.2 438.7,34.1 439.4,34.9 440.1,35.8 440.7,36.7 441.3,37.5 441.8,38.4 442.4,39.3 442.9,40.2 443.4,41.1 443.9,41.9 444.4,42.8 444.9,43.7 445.4,44.6 445.8,45.5 446.3,46.4 446.7,47.2 447.2,48.1 447.6,49.0 448.0,49.9 448.5,50.8 448.9,51.7 449.3,52.6 449.8,53.5 450.2,54.4 450.6,55.3 451.0,56.2 451.5,57.1 451.9,57.9 452.3,58.8 452.8,59.7 453.2,60.6 453.6,61.5 454.0,62.4 454.5,63.3 454.9,64.2 455.3,65.1 455.7,66.0 456.2,66.9 456.6,67.8 457.0,68.7 457.5,69.6 457.9,70.6 458.3,71.5 458.7,72.4 459.2,73.3 459.6,74.2 460.0,75.1 460.5,76.0 460.9,76.9 461.3,77.8 461.7,78.7 462.2,79.6 462.6,80.5 463.0,81.4 463.5,82.3 463.9,83.2 464.3,84.1 464.8,85.0 465.2,85.9 465.7,86.8 466.1,87.7 466.5,88.6 467.0,89.5 467.4,90.4 467.9,91.3 468.3,92.2 468.8,93.1 469.2,94.0 469.7,94.9 470.1,95.8 470.6,96.7 471.0,97.6 471.5,98.5 471.9,99.4 472.4,100.3 472.8,101.2 473.3,102.0 473.8,102.9 474.2,103.8 474.7,104.7 475.2,105.6 475.7,106.5 476.1,107.4 476.6,108.3 477.1,109.1 477.6,110.0 478.1,110.9 478.5,111.8 479.0,112.7 479.5,113.6 480.0,114.4 480.5,115.3 481.0,116.2 481.5,117.1 482.0,117.9 482.5,118.8 483.0,119.7 483.5,120.5 484.1,121.4 484.6,122.3 485.1,123.1 485.6,124.0 486.1,124.8 486.7,125.7 487.2,126.6 487.7,127.4 488.3,128.3 488.8,129.1 489.3,130.0 489.9,130.8 490.4,131.7 491.0,132.5 491.5,133.3 492.1,134.2 492.6,135.0 493.2,135.8 493.8,136.7 494.3,137.5 494.9,138.3 495.5,139.2 496.1,140.0 496.6,140.8 497.2,141.6 497.8,142.4 498.4,143.2 499.0,144.0 499.6,144.8 500.2,145.7 500.8,146.5 501.4,147.2 502.0,148.0 502.6,148.8 503.2,149.6 503.8,150.4 504.5,151.2 505.1,152.0 505.7,152.7 506.4,153.5 507.0,154.3 507.6,155.1 508.3,155.8 508.9,156.6 509.6,157.3 510.2,158.1 510.9,158.8 511.6,159.6 512.2,160.3 512.9,161.1 513.6,161.8 514.2,162.5 514.9,163.3 515.6,164.0 516.3,164.7 517.0,165.4 517.7,166.1 518.4,166.9 519.1,167.6 519.8,168.3 520.5,169.0 521.2,169.7 522.0,170.3 522.7,171.0 523.4,171.7 524.1,172.4 524.9,173.1 525.6,173.7 526.4,174.4 527.1,175.0 527.9,175.7 528.6,176.4 529.4,177.0 530.2,177.6 530.9,178.3 531.7,178.9 532.5,179.5 533.3,180.2 534.0,180.8 534.8,181.4 535.6,182.0 536.4,182.6 537.2,183.2 538.0,183.8 538.8,184.4 539.7,185.0 540.5,185.6 541.3,186.2 542.1,186.7 542.9,187.3 543.8,187.9 544.6,188.4 545.4,189.0 546.3,189.5 547.1,190.1 548.0,190.6 548.8,191.1 549.7,191.6 550.5,192.2 551.4,192.7 552.3,193.2 553.1,193.7 554.0,194.2 554.9,194.7 555.8,195.2 556.6,195.7 557.5,196.2 558.4,196.6 559.3,197.1 560.2,197.6 561.1,198.0 562.0,198.5 562.9,198.9 563.8,199.4 564.7,199.8 565.6,200.2 566.5,200.7 567.4,201.1 568.3,201.5 569.2,201.9 570.1,202.3 571.1,202.7 572.0,203.1 572.9,203.5 573.8,203.9 574.8,204.2 575.7,204.6 576.6,205.0 577.6,205.3 578.5,205.7 579.4,206.0 580.4,206.4 581.3,206.7 582.3,207.0 583.2,207.4 584.2,207.7 585.1,208.0 586.1,208.3 587.0,208.6 588.0,208.9 589.0,209.2 589.9,209.5 590.9,209.7 591.8,210.0 592.8,210.3 593.8,210.5 594.7,210.8 595.7,211.1 596.7,211.3 597.6,211.6 598.6,211.8 599.6,212.0 600.6,212.3 601.5,212.5 602.5,212.7 603.5,213.0 604.5,213.2 605.4,213.4 606.4,213.6 607.4,213.8 608.4,214.0 609.4,214.2 610.4,214.4 611.3,214.6 612.3,214.8 613.3,215.0 614.3,215.2 615.3,215.4 616.3,215.6 617.2,215.8 618.2,216.0 619.2,216.1 620.2,216.3 621.2,216.5 622.2,216.7 623.2,216.8 624.2,217.0 625.1,217.2 626.1,217.4 627.1,217.5 628.1,217.7 629.1,217.9 630.1,217.9 631.5,220.9 632.5,220.8 633.6,220.8 634.6,220.8 635.6,220.8 636.7,220.9 637.7,220.9 638.8,221.0 639.8,221.1 640.8,221.2 641.9,221.3 642.9,221.4 643.9,221.5 645.0,221.6 646.0,221.7 647.0,221.8 648.1,221.9 649.1,222.1 650.1,222.2 651.2,222.4 652.2,222.5 653.2,222.6 654.3,222.8 655.3,222.9 656.3,223.1 657.4,223.2 658.4,223.4 659.4,223.5 660.5,223.7 661.5,223.8 662.5,224.0 663.6,224.1 664.6,224.2 665.6,224.4 666.7,224.5 667.7,224.6 668.7,224.7 669.8,224.8 670.8,224.9 671.9,225.0 672.9,225.1 673.9,225.2 675.0,225.2 676.0,225.3" stroke="#000000" stroke-width="1.8"/>
<polyline points="398.7,226.8 398.7,225.7 398.8,224.7 398.9,223.8 399.0,222.8 399.1,221.8 399.2,220.8 399.3,219.8 399.4,218.8 399.5,217.8 399.6,216.8 399.7,215.8 399.8,214.8 399.9,213.8 400.0,212.8 400.1,211.9 400.1,210.9 400.2,209.9 400.3,208.9 400.4,207.9 400.5,206.9 400.6,205.9 400.7,204.9 400.8,203.9 400.9,202.9 400.9,201.9 401.0,200.9 401.1,199.9 401.2,198.9 401.3,197.9 401.4,196.9 401.5,195.9 401.5,194.9 401.6,193.9 401.7,192.9 401.8,191.9 401.9,190.9 402.0,189.9 402.0,188.9 402.1,187.9 402.2,186.9 402.3,185.9 402.4,184.9 402.4,183.9 402.5,182.9 402.6,181.9 402.7,180.9 402.8,179.9 402.8,178.9 402.9,177.9 403.0,176.9 403.1,175.9 403.2,174.9 403.2,173.9 403.3,172.9 403.4,171.9 403.5,170.9 403.6,169.9 403.7,168.9 403.7,167.9 403.8,166.9 403.9,165.9 404.0,164.9 404.1,163.9 404.2,162.9 404.2,161.9 404.3,160.9 404.4,159.9 404.5,158.9 404.6,157.8 404.7,156.8 404.7,155.8 404.8,154.8 404.9,153.8 405.0,152.8 405.1,151.8 405.2,150.8 405.3,149.8 405.4,148.8 405.4,147.8 405.5,146.8 405.6,145.8 405.7,144.8 405.8,143.8 405.9,142.8 406.0,141.8 406.1,140.8 406.2,139.8 406.3,138.8 406.4,137.8 406.5,136.8 406.6,135.8 406.7,134.8 406.8,133.8 406.9,132.8 407.0,131.8 407.1,130.8 407.2,129.8 407.3,128.8 407.4,127.8 407.5,126.8 407.6,125.8 407.7,124.8 407.8,123.8 408.0,122.8 408.1,121.8 408.2,120.8 408.3,119.9 408.4,118.9 408.5,117.9 408.7,116.9 408.8,115.9 408.9,114.9 409.0,113.9 409.1,112.9 409.3,111.9 409.4,110.9 409.5,109.9 409.6,108.9 409.8,107.9 409.9,106.9 410.0,105.9 410.2,105.0 410.3,104.0 410.5,103.0 410.6,102.0 410.7,101.0 410.9,100.0 411.0,99.0 411.2,98.0 411.3,97.0 411.5,96.1 411.6,95.1 411.8,94.1 411.9,93.1 412.1,92.1 412.2,91.1 412.4,90.2 412.6,89.2 412.7,88.2 412.9,87.2 413.1,86.2 413.2,85.2 413.4,84.3 413.6,83.3 413.7,82.3 413.9,81.3 414.1,80.3 414.3,79.4 414.5,78.4 414.6,77.4 414.8,76.4 415.0,75.5 415.2,74.5 415.4,73.5 415.6,72.5 415.8,71.6 416.0,70.6 416.2,69.6 416.4,68.7 416.6,67.7 416.8,66.7 417.0,65.8 417.2,64.8 417.4,63.8 417.7,62.8 417.9,61.9 418.1,60.9 418.4,59.9 418.6,58.9 418.9,57.9 419.2,56.9 419.5,55.9 419.8,54.8 420.1,53.8 420.5,52.7 420.8,51.7 421.2,50.7 421.6,49.7 422.1,48.7 422.6,47.8 423.1,46.9 423.6,46.1 424.2,45.3 424.8,44.6 425.4,43.9 426.1,43.4 426.8,42.9 427.6,42.6 428.4,42.3 429.2,42.1 430.1,42.1 430.9,42.1 431.8,42.3 432.6,42.6 433.4,43.0 434.2,43.5 435.0,44.0 435.8,44.7 436.5,45.4 437.2,46.1 437.9,46.9 438.6,47.7 439.2,48.6 439.9,49.4 440.5,50.3 441.1,51.2 441.7,52.0 442.2,52.9 442.8,53.8 443.3,54.7 443.8,55.6 444.3,56.5 444.8,57.4 445.3,58.3 445.8,59.2 446.2,60.1 446.7,61.0 447.1,61.9 447.5,62.8 447.9,63.7 448.3,64.6 448.7,65.6 449.1,66.5 449.4,67.4 449.8,68.3 450.2,69.3 450.5,70.2 450.9,71.1 451.2,72.1 451.5,73.0 451.9,73.9 452.2,74.9 452.5,75.8 452.9,76.7 453.2,77.7 453.5,78.6 453.8,79.6 454.1,80.5 454.5,81.4 454.8,82.4 455.1,83.3 455.4,84.2 455.8,85.2 456.1,86.1 456.4,87.1 456.8,88.0 457.1,88.9 457.5,89.8 457.8,90.8 458.2,91.7 458.5,92.6 458.9,93.5 459.3,94.5 459.7,95.4 460.1,96.3 460.5,97.2 460.9,98.1 461.3,99.0 461.7,99.9 462.1,100.8 462.6,101.8 463.0,102.7 463.4,103.6 463.9,104.5 464.3,105.4 464.8,106.3 465.2,107.2 465.7,108.1 466.1,109.0 466.6,109.9 467.0,110.7 467.5,111.6 468.0,112.5 468.4,113.4 468.9,114.3 469.4,115.2 469.8,116.1 470.3,117.0 470.8,117.9 471.3,118.8 471.7,119.7 472.2,120.6 472.7,121.5 473.2,122.3 473.7,123.2 474.1,124.1 474.6,125.0 475.1,125.9 475.6,126.8 476.0,127.7 476.5,128.6 477.0,129.5 477.4,130.4 477.9,131.3 478.4,132.1 478.8,133.0 479.3,133.9 479.7,134.8 480.2,135.7 480.6,136.6 481.1,137.5 481.5,138.4 482.0,139.3 482.4,140.2 482.8,141.1 483.3,142.0 483.7,142.9 484.2,143.8 484.7,144.7 485.1,145.5 485.6,146.4 486.1,147.3 486.5,148.2 487.0,149.0 487.5,149.9 488.1,150.7 488.6,151.6 489.1,152.4 489.7,153.3 490.2,154.1 490.8,154.9 491.3,155.7 491.9,156.6 492.5,157.4 493.1,158.2 493.7,159.0 494.3,159.8 494.9,160.6 495.5,161.4 496.1,162.1 496.8,162.9 497.4,163.7 498.1,164.5 498.7,165.2 499.4,166.0 500.0,166.7 500.7,167.5 501.4,168.2 502.0,169.0 502.7,169.7 503.4,170.5 504.1,171.2 504.8,171.9 505.5,172.6 506.2,173.4 506.9,174.1 507.6,174.8 508.3,175.5 509.0,176.2 509.8,176.9 510.5,177.6 511.2,178.3 511.9,179.0 512.7,179.7 513.4,180.4 514.1,181.1 514.8,181.7 515.6,182.4 516.3,183.1 517.1,183.8 517.8,184.4 518.6,185.1 519.3,185.7 520.1,186.4 520.8,187.1 521.6,187.7 522.3,188.3 523.1,189.0 523.9,189.6 524.7,190.2 525.4,190.9 526.2,191.5 527.0,192.1 527.8,192.7 528.6,193.3 529.4,193.9 530.2,194.5 531.0,195.1 531.8,195.7 532.7,196.2 533.5,196.8 534.3,197.3 535.2,197.9 536.0,198.4 536.8,198.9 537.7,199.4 538.6,199.9 539.4,200.4 540.3,200.8 541.2,201.3 542.1,201.8 543.0,202.2 543.9,202.6 544.8,203.1 545.7,203.5 546.6,203.9 547.5,204.3 548.5,204.7 549.4,205.0 550.3,205.4 551.3,205.8 552.2,206.1 553.2,206.5 554.1,206.8 555.1,207.1 556.0,207.5 557.0,207.8 557.9,208.1 558.9,208.4 559.9,208.7 560.8,209.0 561.8,209.3 562.8,209.6 563.7,209.9 564.7,210.2 565.7,210.5 566.6,210.7 567.6,211.0 568.6,211.3 569.6,211.5 570.5,211.8 571.5,212.1 572.5,212.3 573.5,212.6 574.4,212.8 575.4,213.1 576.4,213.3 577.3,213.6 578.3,213.8 579.3,214.1 580.2,214.3 581.2,214.6 582.2,214.8 583.1,215.1 584.1,215.3 585.0,215.6 586.0,215.8 587.0,215.9 587.0,215.9 591.0,220.6 591.0,220.6 592.0,220.7 593.0,220.8 594.0,220.9 595.1,221.0 596.1,221.1 597.1,221.2 598.1,221.3 599.1,221.5 600.1,221.6 601.1,221.7 602.1,221.8 603.1,221.9 604.2,222.0 605.2,222.2 606.2,222.3 607.2,222.4 608.2,222.5 609.2,222.6 610.2,222.8 611.2,222.9 612.2,223.0 613.3,223.1 614.3,223.3 615.3,223.4 616.3,223.5 617.3,223.7 618.3,223.8 619.3,223.9 620.3,224.0 621.3,224.2 622.3,224.3 623.4,224.4 624.4,224.6 625.4,224.7 626.4,224.8 627.4,225.0 628.4,225.1 629.4,225.2 630.4,225.4 631.4,225.5 632.4,225.6 633.5,225.7 634.5,225.9 635.5,226.0 636.5,226.1 637.5,226.3 638.5,226.4 639.5,226.5 640.5,226.6 641.5,226.7 642.5,226.9 643.6,227.0 644.6,227.1 645.6,227.2 646.6,227.3 647.6,227.5 648.6,227.6 649.6,227.7 650.6,227.8 651.6,227.9 652.7,228.0 653.7,228.1 654.7,228.2 655.7,228.3 656.7,228.4 657.7,228.5 658.7,228.6 659.7,228.7 660.8,228.8 661.8,228.9 662.8,229.0 663.8,229.1 664.8,229.2 665.8,229.2 666.9,229.3 667.9,229.4 668.9,229.5 669.9,229.5 670.9,229.6 671.9,229.7 672.9,229.7 674.0,229.8 675.0,229.9 676.0,229.9" stroke="#ff0000" stroke-width="1.7" stroke-dasharray="1.6 1.35"/>
</g>
<g fill="none" stroke="#5a5a5a" stroke-width="1.1">
<rect x="398.0" y="1.5" width="278.5" height="238.1"/>
<line x1="467.5" y1="239.5" x2="467.5" y2="233"/>
<line x1="467.5" y1="1.5" x2="467.5" y2="8"/>
<line x1="537.0" y1="239.5" x2="537.0" y2="233"/>
<line x1="537.0" y1="1.5" x2="537.0" y2="8"/>
<line x1="606.5" y1="239.5" x2="606.5" y2="233"/>
<line x1="606.5" y1="1.5" x2="606.5" y2="8"/>
<line x1="398.0" y1="154.5" x2="404.5" y2="154.5"/>
<line x1="676.5" y1="154.5" x2="670.0" y2="154.5"/>
<line x1="398.0" y1="69.5" x2="404.5" y2="69.5"/>
<line x1="676.5" y1="69.5" x2="670.0" y2="69.5"/>
</g>
<g font-family="Liberation Serif" fill="#000">
<text x="394.17" y="253.00" font-size="13.3" textLength="7.67" lengthAdjust="spacingAndGlyphs">0</text>
<text x="458.89" y="253.00" font-size="13.3" textLength="17.72" lengthAdjust="spacingAndGlyphs">0.2</text>
<text x="528.53" y="253.00" font-size="13.3" textLength="17.14" lengthAdjust="spacingAndGlyphs">0.4</text>
<text x="598.15" y="253.00" font-size="13.3" textLength="17.34" lengthAdjust="spacingAndGlyphs">0.6</text>
<text x="667.77" y="253.00" font-size="13.3" textLength="17.46" lengthAdjust="spacingAndGlyphs">0.8</text>
<text x="386.08" y="243.90" font-size="13.3" textLength="6.84" lengthAdjust="spacingAndGlyphs">0</text>
<text x="375.36" y="159.00" font-size="13.3" textLength="17.69" lengthAdjust="spacingAndGlyphs">0.5</text>
<text x="386.48" y="73.90" font-size="13.3" textLength="6.39" lengthAdjust="spacingAndGlyphs">1</text>
<text x="480.29" y="271.90" font-size="13.5" textLength="113.37" lengthAdjust="spacingAndGlyphs">Displacement [mm]</text>
<text x="536.81" y="292.70" font-size="15.0" textLength="19.29" lengthAdjust="spacingAndGlyphs" font-weight="bold">(b)</text>
<text transform="translate(363.6,0) rotate(-90)" x="-148.09" y="0" font-size="13.3" textLength="56.80" lengthAdjust="spacingAndGlyphs">Load [kN]</text>
</g>
<rect x="545.5" y="6.5" width="125.0" height="55.0" fill="#fff" stroke="#5a5a5a" stroke-width="1.1"/>
<line x1="550.2" y1="17.7" x2="576.4" y2="17.7" stroke="#0000ff" stroke-width="1.6" stroke-dasharray="4.85 2.65"/>
<line x1="550.2" y1="33.9" x2="576.4" y2="33.9" stroke="#000" stroke-width="1.8" stroke-dasharray="none"/>
<line x1="550.2" y1="49.95" x2="576.4" y2="49.95" stroke="#ff0000" stroke-width="1.7" stroke-dasharray="1.45 1.26"/>
<g font-family="Liberation Serif" fill="#000">
<text x="580.65" y="20.80" font-size="13.0" textLength="6.57" lengthAdjust="spacingAndGlyphs" font-style="italic">ρ</text>
<text x="588.23" y="23.40" font-size="10.3" textLength="9.54" lengthAdjust="spacingAndGlyphs" font-style="italic">M</text>
<path d="M604.8 16.15H613.8M604.8 18.65H613.8" stroke="#333" stroke-width="0.8" fill="none"/>
<text x="618.04" y="20.80" font-size="13.0" textLength="17.96" lengthAdjust="spacingAndGlyphs">1.2</text>
<text x="640.51" y="20.80" font-size="13.0" textLength="21.81" lengthAdjust="spacingAndGlyphs">mm</text>
<text x="580.65" y="36.90" font-size="13.0" textLength="6.57" lengthAdjust="spacingAndGlyphs" font-style="italic">ρ</text>
<text x="588.23" y="39.50" font-size="10.3" textLength="9.54" lengthAdjust="spacingAndGlyphs" font-style="italic">M</text>
<path d="M604.8 32.25H613.8M604.8 34.75H613.8" stroke="#333" stroke-width="0.8" fill="none"/>
<text x="618.79" y="36.90" font-size="13.0" textLength="16.81" lengthAdjust="spacingAndGlyphs">0.6</text>
<text x="640.51" y="36.90" font-size="13.0" textLength="21.81" lengthAdjust="spacingAndGlyphs">mm</text>
<text x="580.65" y="53.05" font-size="13.0" textLength="6.57" lengthAdjust="spacingAndGlyphs" font-style="italic">ρ</text>
<text x="588.23" y="55.65" font-size="10.3" textLength="9.54" lengthAdjust="spacingAndGlyphs" font-style="italic">M</text>
<path d="M604.8 48.40H613.8M604.8 50.90H613.8" stroke="#333" stroke-width="0.8" fill="none"/>
<text x="618.78" y="53.05" font-size="13.0" textLength="16.95" lengthAdjust="spacingAndGlyphs">0.3</text>
<text x="640.51" y="53.05" font-size="13.0" textLength="21.81" lengthAdjust="spacingAndGlyphs">mm</text>
</g>
</svg>
</body></html>
